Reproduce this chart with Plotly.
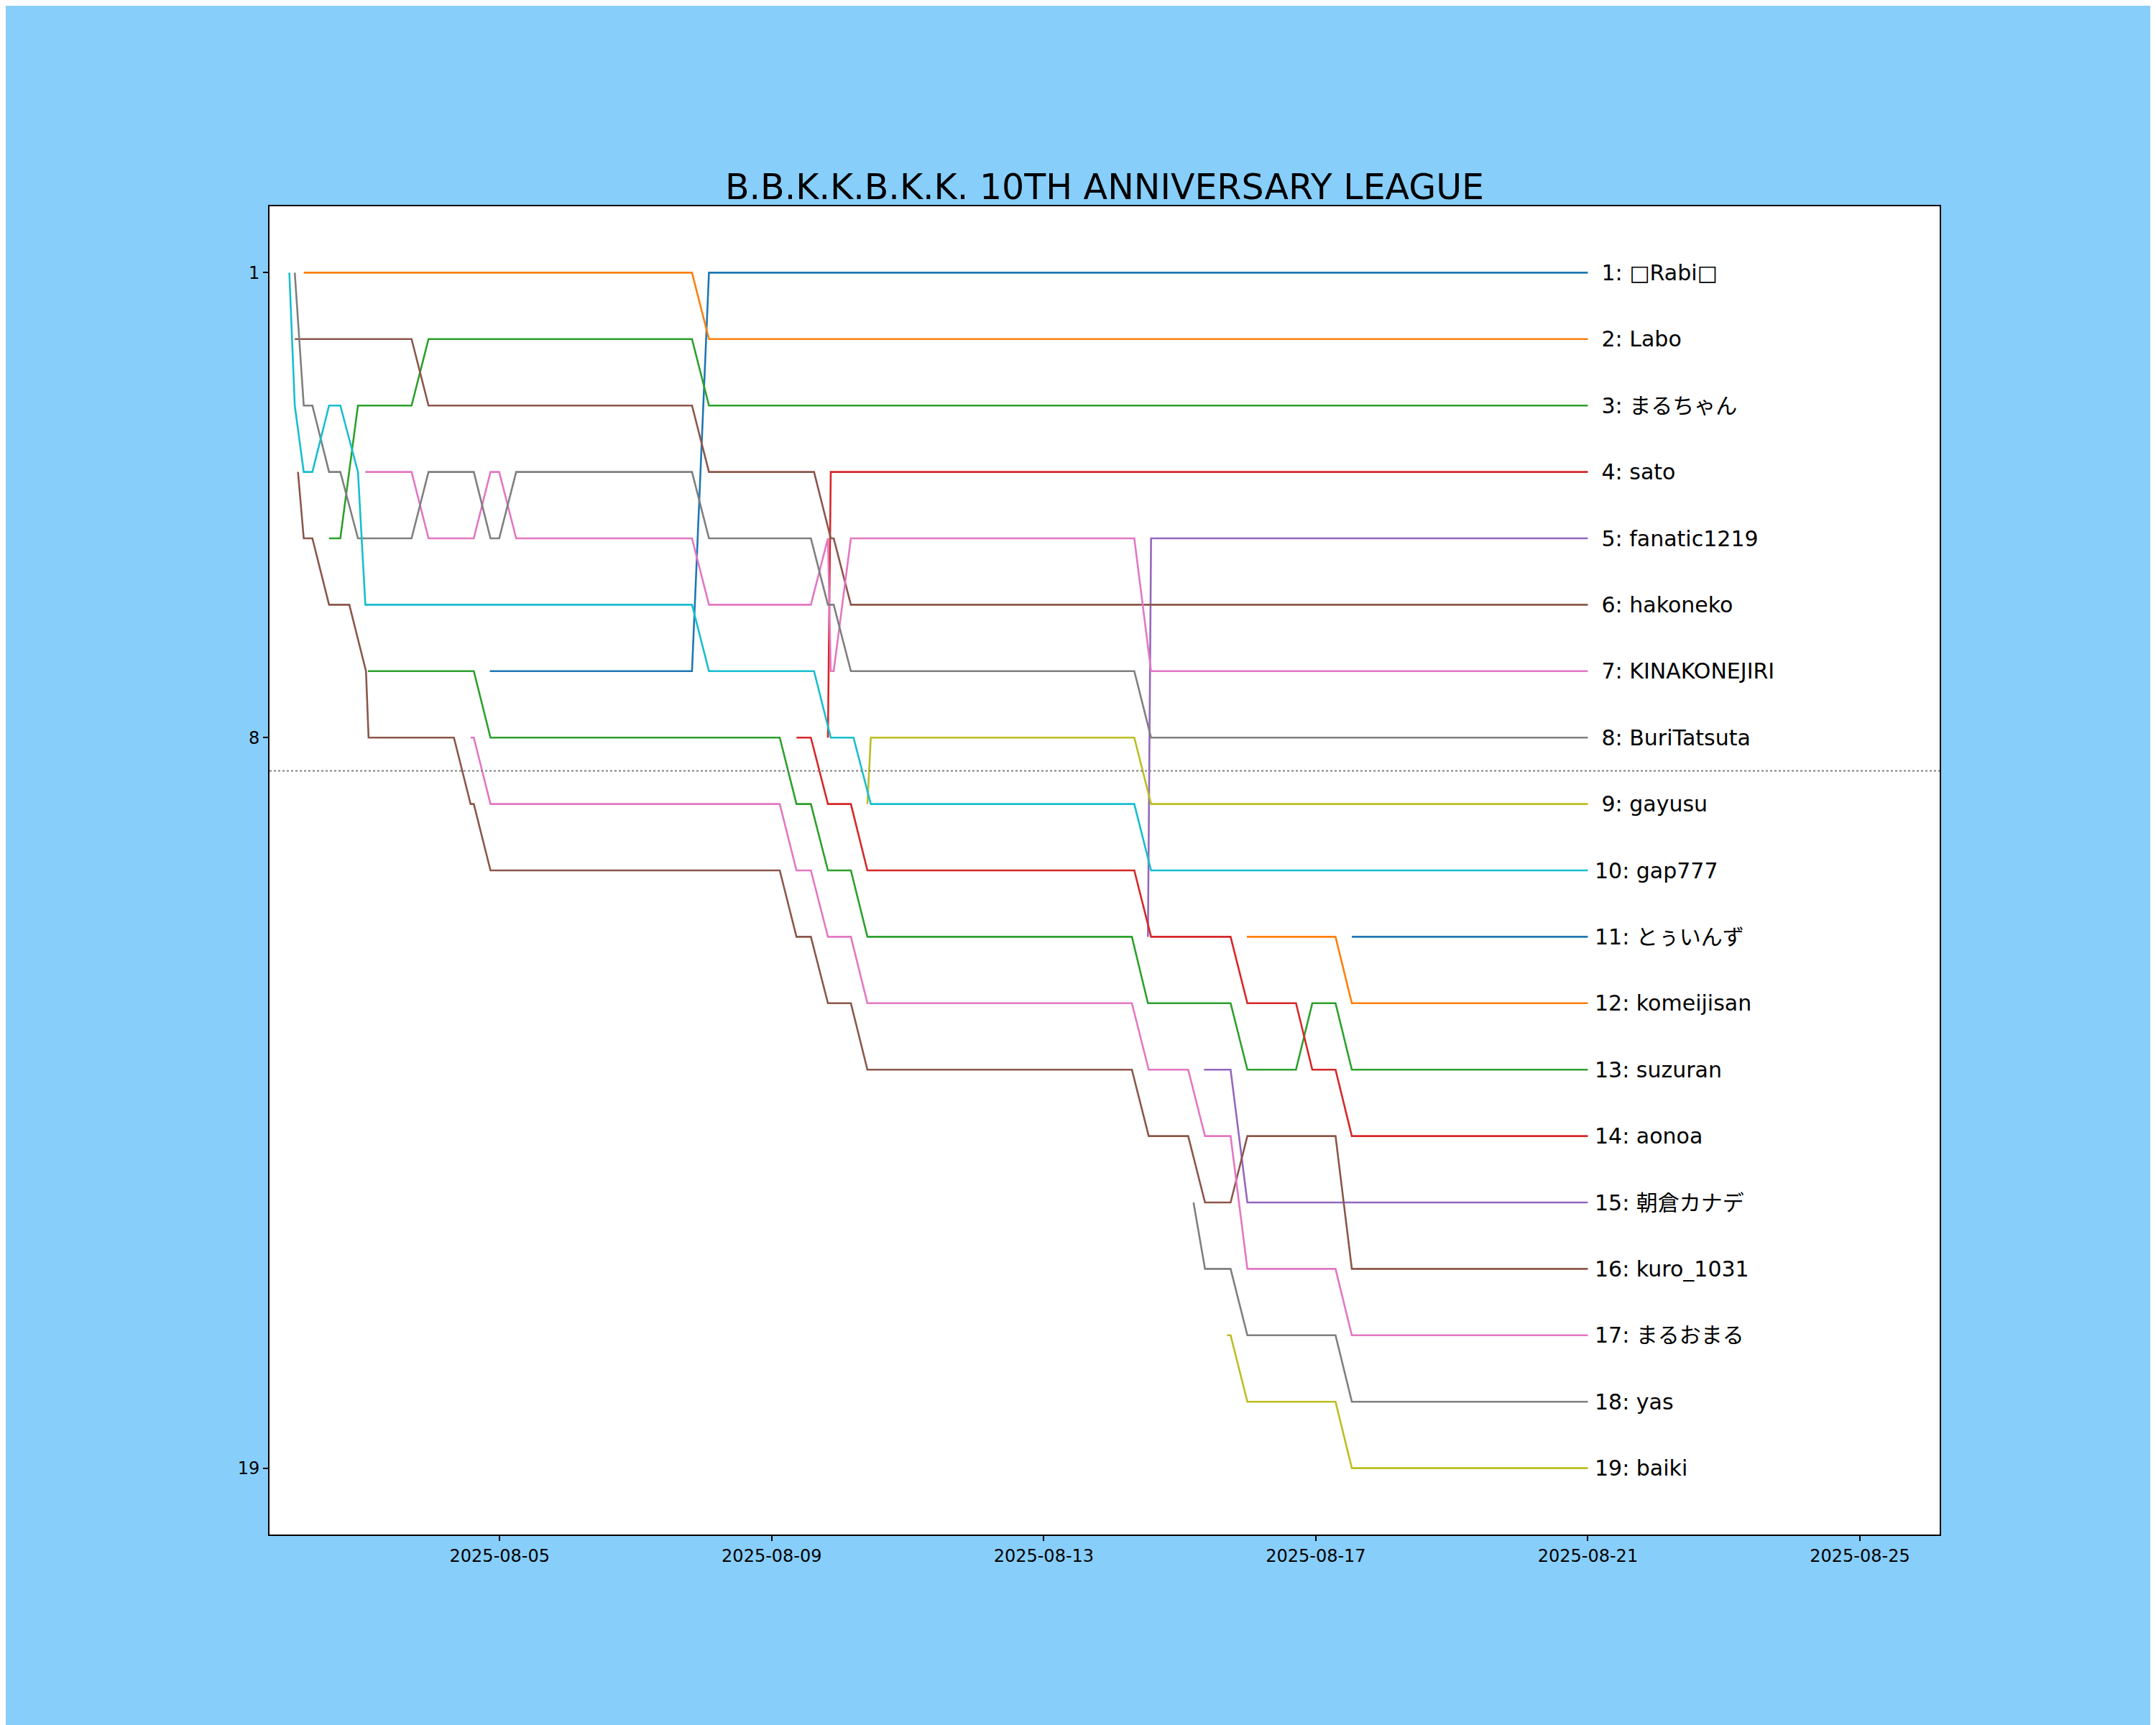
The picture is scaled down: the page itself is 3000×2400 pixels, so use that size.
import plotly.graph_objects as go

# rank chart of a league: every player's rank at the moments it changed
# (times, year added when plotting)

names = ['□Rabi□', 'Labo', 'まるちゃん', 'sato', 'fanatic1219', 'hakoneko',
         'KINAKONEJIRI', 'BuriTatsuta', 'gayusu', 'gap777', 'とぅいんず',
         'komeijisan', 'suzuran', 'aonoa', '朝倉カナデ', 'kuro_1031',
         'まるおまる', 'yas', 'baiki']

rabi_t = ["08-04 20:31", "08-07 19:52", "08-08 01:51", "08-21 00:00"]
rabi_r = [7, 7, 1, 1]

labo_t = ["08-02 02:51", "08-07 19:52", "08-08 01:51", "08-21 00:00"]
labo_r = [1, 1, 2, 2]

maruchan_t = ["08-02 11:47", "08-02 15:46", "08-02 21:59", "08-03 16:54",
              "08-03 22:53", "08-07 19:52", "08-08 01:51", "08-21 00:00"]
maruchan_r = [5, 5, 3, 3, 2, 2, 3, 3]

sato_t = ["08-09 19:50", "08-09 20:50", "08-21 00:00"]
sato_r = [8, 4, 4]

fanatic_t = ["08-14 12:46", "08-14 13:52", "08-21 00:00"]
fanatic_r = [11, 5, 5]

hakoneko_t = ["08-01 23:41", "08-03 16:54", "08-03 22:53", "08-07 19:52",
              "08-08 01:51", "08-09 14:56", "08-09 20:50", "08-09 21:52",
              "08-10 03:56", "08-21 00:00"]
hakoneko_r = [2, 2, 3, 3, 4, 4, 5, 5, 6, 6]

kinako_t = ["08-03 00:36", "08-03 16:54", "08-03 22:53", "08-04 14:52",
            "08-04 20:45", "08-04 23:50", "08-05 05:49", "08-07 19:52",
            "08-08 01:51", "08-09 13:49", "08-09 19:50", "08-09 20:50",
            "08-09 21:52", "08-10 03:56", "08-14 07:57", "08-14 13:52",
            "08-21 00:00"]
kinako_r = [4, 4, 5, 5, 4, 4, 5, 5, 6, 6, 5, 7, 7, 5, 5, 7, 7]

buri_t = ["08-01 23:41", "08-02 02:51", "08-02 05:54", "08-02 11:47",
          "08-02 15:46", "08-02 21:59", "08-03 16:54", "08-03 22:53",
          "08-04 14:52", "08-04 20:45", "08-04 23:50", "08-05 05:49",
          "08-07 19:52", "08-08 01:51", "08-09 13:49", "08-09 19:50",
          "08-09 21:52", "08-10 03:56", "08-14 07:57", "08-14 13:52",
          "08-21 00:00"]
buri_r = [1, 3, 3, 4, 4, 5, 5, 4, 4, 5, 5, 4, 4, 5, 5, 6, 6, 7, 7, 8, 8]

gayusu_t = ["08-10 09:46", "08-10 10:58", "08-14 07:57", "08-14 13:52",
            "08-21 00:00"]
gayusu_r = [9, 8, 8, 9, 9]

gap_t = ["08-01 21:46", "08-01 23:41", "08-02 02:51", "08-02 05:54",
         "08-02 11:47", "08-02 15:46", "08-02 21:59", "08-03 00:36",
         "08-07 19:52", "08-08 01:51", "08-09 14:56", "08-09 20:50",
         "08-10 04:52", "08-10 10:58", "08-14 07:57", "08-14 13:52",
         "08-21 00:00"]
gap_r = [1, 3, 4, 4, 3, 3, 4, 6, 6, 7, 7, 8, 8, 9, 9, 10, 10]

tuinzu_t = ["08-17 12:43", "08-21 00:00"]
tuinzu_r = [11, 11]

komeiji_t = ["08-15 23:41", "08-17 06:58", "08-17 12:43", "08-21 00:00"]
komeiji_r = [11, 11, 12, 12]

suzuran_t = ["08-03 01:31", "08-04 14:52", "08-04 20:45", "08-09 02:50",
             "08-09 08:44", "08-09 13:49", "08-09 19:50", "08-10 03:56",
             "08-10 09:46", "08-14 07:06", "08-14 12:46", "08-15 17:56",
             "08-15 23:51", "08-16 17:01", "08-16 22:46", "08-17 06:58",
             "08-17 12:43", "08-21 00:00"]
suzuran_r = [7, 7, 8, 8, 9, 9, 10, 10, 11, 11, 12, 12, 13, 13, 12, 12, 13, 13]

aonoa_t = ["08-09 08:44", "08-09 13:49", "08-09 19:50", "08-10 03:56",
           "08-10 09:46", "08-14 07:57", "08-14 13:52", "08-15 17:56",
           "08-15 23:51", "08-16 17:01", "08-16 22:46", "08-17 06:58",
           "08-17 12:43", "08-21 00:00"]
aonoa_r = [8, 8, 9, 9, 10, 10, 11, 11, 12, 12, 13, 13, 14, 14]

asakura_t = ["08-15 08:33", "08-15 17:56", "08-15 23:51", "08-21 00:00"]
asakura_r = [13, 13, 15, 15]

kuro_t = ["08-02 00:49", "08-02 02:51", "08-02 05:54", "08-02 11:47",
          "08-02 18:56", "08-03 00:49", "08-03 01:44", "08-04 07:51",
          "08-04 13:44", "08-04 14:52", "08-04 20:45", "08-09 02:50",
          "08-09 08:44", "08-09 13:49", "08-09 19:50", "08-10 03:56",
          "08-10 09:46", "08-14 07:06", "08-14 13:02", "08-15 02:58",
          "08-15 08:54", "08-15 17:56", "08-15 23:51", "08-17 06:58",
          "08-17 12:43", "08-21 00:00"]
kuro_r = [4, 5, 5, 6, 6, 7, 8, 8, 9, 9, 10, 10, 11, 11, 12, 12, 13, 13,
          14, 14, 15, 15, 14, 14, 16, 16]

maruomaru_t = ["08-04 13:44", "08-04 14:52", "08-04 20:45", "08-09 02:50",
               "08-09 08:44", "08-09 13:49", "08-09 19:50", "08-10 03:56",
               "08-10 09:46", "08-14 07:06", "08-14 13:02", "08-15 02:58",
               "08-15 08:54", "08-15 17:56", "08-15 23:51", "08-17 06:58",
               "08-17 12:43", "08-21 00:00"]
maruomaru_r = [8, 8, 9, 9, 10, 10, 11, 11, 12, 12, 13, 13, 14, 14, 16, 16, 17, 17]

yas_t = ["08-15 04:51", "08-15 08:54", "08-15 17:56", "08-15 23:51",
         "08-17 06:58", "08-17 12:43", "08-21 00:00"]
yas_r = [15, 16, 16, 17, 17, 18, 18]

baiki_t = ["08-15 16:40", "08-15 17:56", "08-15 23:51", "08-17 06:58",
           "08-17 12:43", "08-21 00:00"]
baiki_r = [17, 17, 18, 18, 19, 19]

times = [rabi_t, labo_t, maruchan_t, sato_t, fanatic_t, hakoneko_t, kinako_t,
         buri_t, gayusu_t, gap_t, tuinzu_t, komeiji_t, suzuran_t, aonoa_t,
         asakura_t, kuro_t, maruomaru_t, yas_t, baiki_t]
ranks = [rabi_r, labo_r, maruchan_r, sato_r, fanatic_r, hakoneko_r, kinako_r,
         buri_r, gayusu_r, gap_r, tuinzu_r, komeiji_r, suzuran_r, aonoa_r,
         asakura_r, kuro_r, maruomaru_r, yas_r, baiki_r]

tick_dates = ["2025-08-05", "2025-08-09", "2025-08-13", "2025-08-17",
              "2025-08-21", "2025-08-25"]
rank_ticks = [1, 8, 19]

tab10 = ['#1f77b4', '#ff7f0e', '#2ca02c', '#d62728', '#9467bd',
         '#8c564b', '#e377c2', '#7f7f7f', '#bcbd22', '#17becf']

FONT = "DejaVu Sans, Noto Sans CJK JP"

fig = go.Figure()
annotations = []
for i, name in enumerate(names):
    xs = ["2025-" + t for t in times[i]]
    ys = ranks[i]
    fig.add_trace(go.Scatter(x=xs, y=ys, mode='lines',
                             line=dict(color=tab10[i % 10], width=2.6),
                             name=name, showlegend=False))
    final = ys[-1]
    # single digit ranks are padded with a space, like "%2d"
    label = ("\u00a0" if final < 10 else "") + f"{final}: {name}"
    annotations.append(dict(x="2025-08-21 02:00", y=final, xref='x', yref='y',
                            text=label, showarrow=False, xanchor='left',
                            yanchor='middle',
                            font=dict(family=FONT, size=30, color='black')))

# cut-off line under 8th place
fig.add_shape(type='line', xref='paper', yref='y', x0=0, x1=1, y0=8.5, y1=8.5,
              line=dict(color='gray', width=2, dash='dot'))

# the page body has an 8px margin, so the margins are shifted by that
fig.update_layout(
    width=3000, height=2400,
    paper_bgcolor='#87CEFA', plot_bgcolor='white',
    margin=dict(l=367, r=309, t=279, b=273),
    font=dict(family=FONT, color='black'),
    title=dict(text='B.B.K.K.B.K.K. 10TH ANNIVERSARY LEAGUE', x=0.5,
               xref='paper', xanchor='center', y=0.895, yanchor='middle',
               font=dict(family=FONT, size=49, color='black')),
    annotations=annotations,
    xaxis=dict(type='date', range=["2025-08-01 14:46", "2025-08-26 04:10"],
               tickvals=tick_dates, ticktext=tick_dates,
               showgrid=False, zeroline=False, showline=True, mirror=True,
               linecolor='black', linewidth=2, ticks='outside', ticklen=7,
               tickwidth=2, tickcolor='black',
               tickfont=dict(family=FONT, size=24)),
    yaxis=dict(range=[20, 0], tickvals=rank_ticks,
               ticktext=[str(v) for v in rank_ticks],
               showgrid=False, zeroline=False, showline=True, mirror=True,
               linecolor='black', linewidth=2, ticks='outside', ticklen=7,
               tickwidth=2, tickcolor='black',
               tickfont=dict(family=FONT, size=24)),
)

fig.write_html("out.html")
